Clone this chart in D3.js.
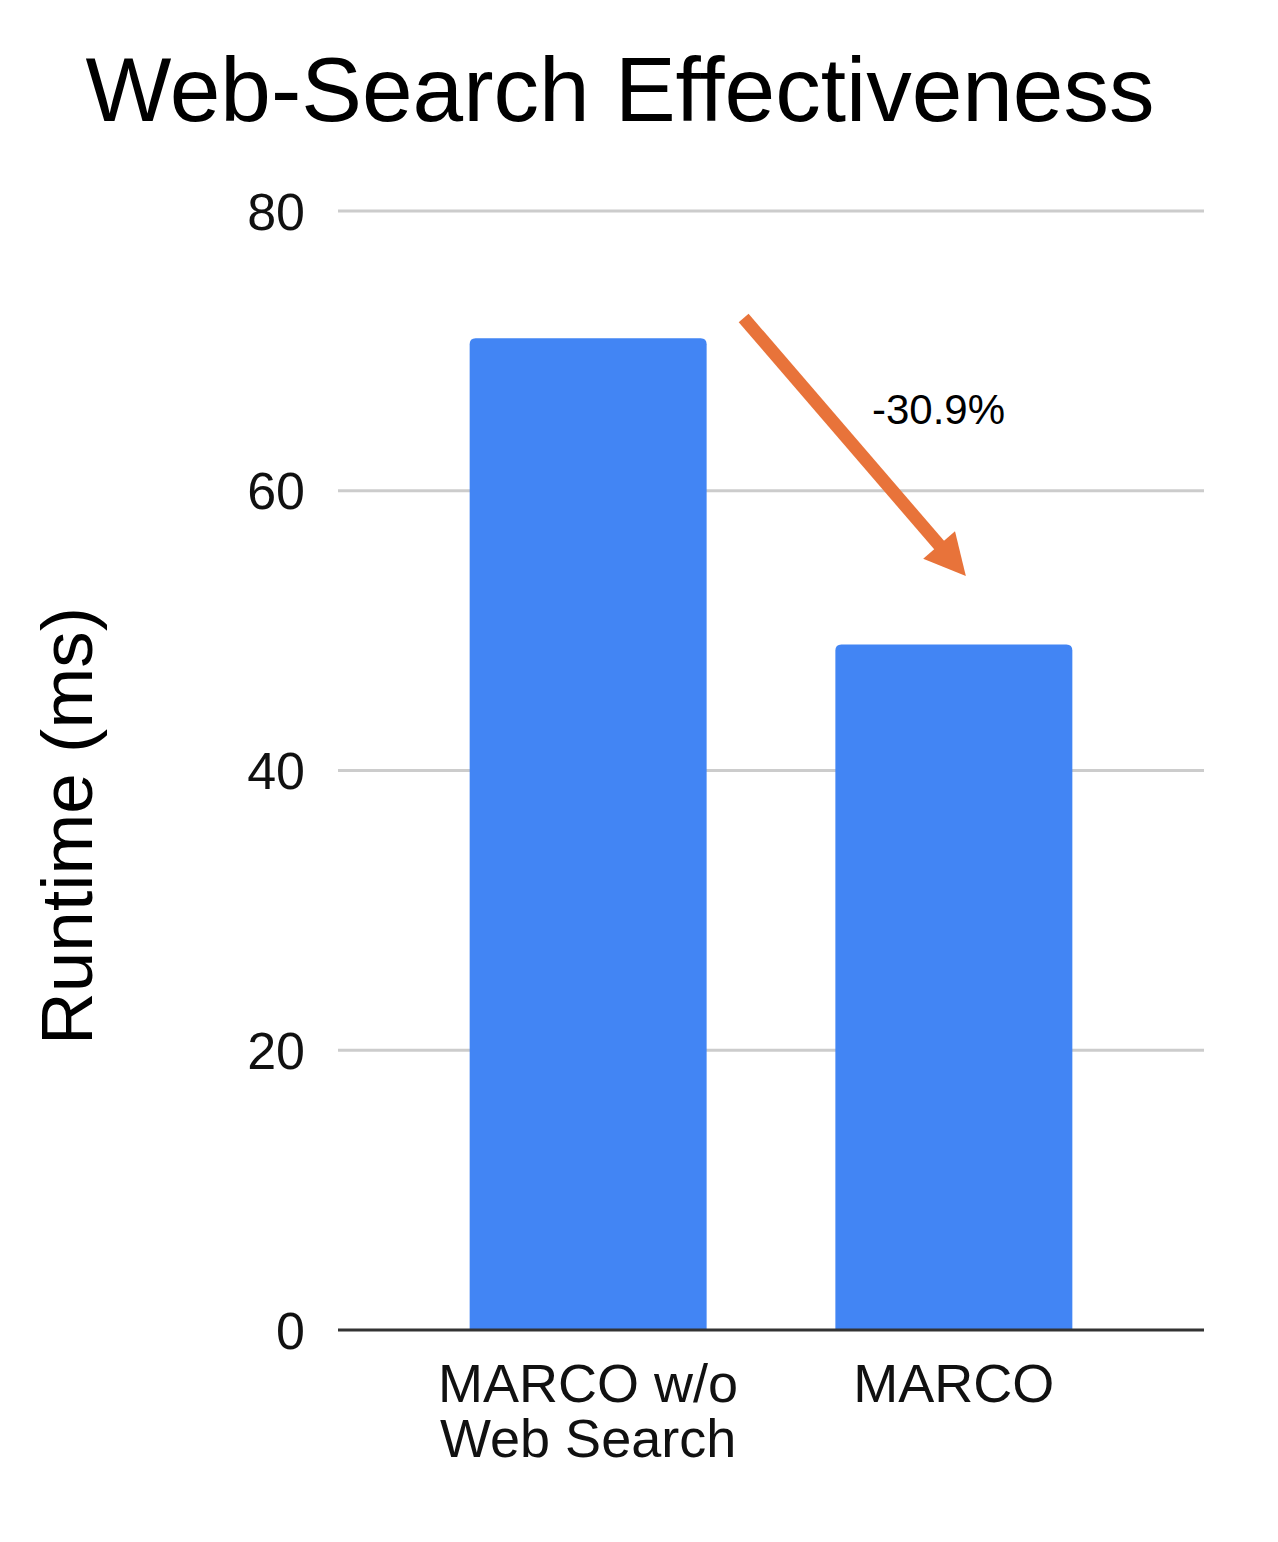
<!DOCTYPE html>
<html>
<head>
<meta charset="utf-8">
<script src="https://cdn.jsdelivr.net/npm/d3@7"></script>
<style>
  html, body { margin: 0; padding: 0; background: #fff; }
  svg { display: block; font-family: "Liberation Sans", Arial, sans-serif; }
</style>
</head>
<body>
<svg id="chart" width="1278" height="1542"></svg>
<script>
// ---- data ----
const categories = ["MARCO w/o\nWeb Search", "MARCO"];
const runtimes = [70.9, 49.0];
const yTicks = [0, 20, 40, 60, 80];
const title = "Web-Search Effectiveness";
const yTitle = "Runtime (ms)";
const changeLabel = "-30.9%";
// annotation arrow endpoints in value space
const arrowFromValue = 72.35;
const arrowToValue = 53.9;

const svg = d3.select("#chart");
const W = 1278, H = 1542;
svg.append("rect").attr("width", W).attr("height", H).attr("fill", "#fff");

const plot = { left: 338, right: 1204, top: 211, bottom: 1330 };

const y = d3.scaleLinear().domain([0, 80]).range([plot.bottom, plot.top]);
const x = d3.scaleBand().domain(categories).range([plot.left, plot.right])
  .paddingInner(0.352).paddingOuter(0.36);

// title
svg.append("text").attr("x", 620).attr("y", 121).attr("text-anchor", "middle")
  .attr("font-size", 91).attr("fill", "#000").text(title);

// gridlines
svg.append("g").selectAll("line").data(yTicks.filter(d => d !== 0)).join("line")
  .attr("x1", plot.left).attr("x2", plot.right)
  .attr("y1", d => y(d)).attr("y2", d => y(d))
  .attr("stroke", "#cccccc").attr("stroke-width", 3);

// y axis labels
const yAxis = d3.axisLeft(y).tickValues(yTicks).tickSize(0).tickPadding(33);
const gy = svg.append("g").attr("transform", `translate(${plot.left},0)`).call(yAxis);
gy.select(".domain").remove();
gy.selectAll("text").attr("font-size", 52).attr("fill", "#111")
  .attr("font-family", "'Liberation Sans', Arial, sans-serif").attr("dy", "0.35em");

// bars with rounded top corners
const r = 6;
function barPath(x0, w, yTop, yBot) {
  return `M${x0},${yBot} L${x0},${yTop + r} Q${x0},${yTop} ${x0 + r},${yTop} ` +
    `L${x0 + w - r},${yTop} Q${x0 + w},${yTop} ${x0 + w},${yTop + r} L${x0 + w},${yBot} Z`;
}
svg.append("g").selectAll("path").data(categories).join("path")
  .attr("d", (c, i) => barPath(x(c), x.bandwidth(), y(runtimes[i]), y(0)))
  .attr("fill", "#4285F4");

// baseline
svg.append("line").attr("x1", plot.left).attr("x2", plot.right)
  .attr("y1", y(0)).attr("y2", y(0)).attr("stroke", "#333").attr("stroke-width", 3);

// x labels
const xl = svg.append("g").selectAll("text").data(categories).join("text")
  .attr("x", c => x(c) + x.bandwidth() / 2).attr("y", 1402)
  .attr("text-anchor", "middle").attr("font-size", 54).attr("fill", "#111");
xl.each(function (c) {
  const lines = c.split("\n");
  const t = d3.select(this);
  lines.forEach((ln, i) => {
    t.append("tspan").attr("x", x(c) + x.bandwidth() / 2).attr("dy", i === 0 ? 0 : 55).text(ln);
  });
});

// y title
svg.append("text").attr("transform", "translate(92,826) rotate(-90)")
  .attr("text-anchor", "middle").attr("font-size", 73).attr("fill", "#000").text(yTitle);

// arrow annotation
const ax1 = x(categories[0]) + x.bandwidth() + 37, ay1 = y(arrowFromValue);
const ax2 = x(categories[1]) + x.bandwidth() / 2 + 12, ay2 = y(arrowToValue);
const ang = Math.atan2(ay2 - ay1, ax2 - ax1);
const headLen = 41, headW = 42;
const bx = ax2 - headLen * Math.cos(ang), by = ay2 - headLen * Math.sin(ang);
const orange = "#E8733A";
svg.append("line").attr("x1", ax1).attr("y1", ay1)
  .attr("x2", bx + 2 * Math.cos(ang)).attr("y2", by + 2 * Math.sin(ang))
  .attr("stroke", orange).attr("stroke-width", 13);
const px = -Math.sin(ang), py = Math.cos(ang);
svg.append("path")
  .attr("d", `M${ax2},${ay2} L${bx + px * headW / 2},${by + py * headW / 2} L${bx - px * headW / 2},${by - py * headW / 2} Z`)
  .attr("fill", orange);

svg.append("text").attr("x", 872).attr("y", 424).attr("font-size", 42)
  .attr("fill", "#000").text(changeLabel);
</script>
</body>
</html>
